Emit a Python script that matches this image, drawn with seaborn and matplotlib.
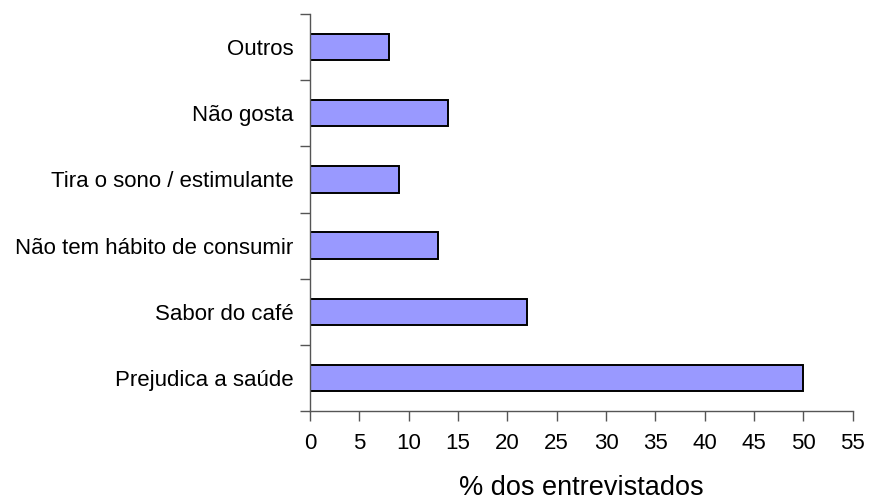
"""Motivos para não consumir café — barras horizontais."""
import matplotlib
matplotlib.use("Agg")
import matplotlib.pyplot as plt
import numpy as np
import pandas as pd
import seaborn as sns

categorias = [
    "Outros",
    "Não gosta",
    "Tira o sono / estimulante",
    "Não tem hábito de consumir",
    "Sabor do café",
    "Prejudica a saúde",
]
percentuais = [8, 14, 9, 13, 22, 50]
x_ticks = list(range(0, 60, 5))

sns.set_style("ticks")
plt.rcParams["font.family"] = ["Liberation Sans", "DejaVu Sans"]
plt.rcParams["text.color"] = "black"
plt.rcParams["xtick.labelcolor"] = "black"
plt.rcParams["ytick.labelcolor"] = "black"
plt.rcParams["axes.labelcolor"] = "black"

df = pd.DataFrame({"motivo": categorias, "pct": percentuais})

fig = plt.figure(figsize=(8.69, 5), dpi=100)
ax = fig.add_axes([0.3567, 0.178, 0.6245, 0.794])

sns.barplot(
    data=df, x="pct", y="motivo", orient="h", width=0.4,
    color="#9999FF", saturation=1, edgecolor="black", linewidth=1.4, ax=ax,
)

axis_color = "#555555"
ax.set_xlim(0, 55)
ax.set_ylim(len(categorias) - 0.5, -0.5)
ax.set_xticks(x_ticks)
ax.set_xticklabels([str(t) for t in x_ticks], fontsize=16)
ax.tick_params(axis="x", length=7, width=1, color=axis_color, pad=9,
               labelcolor="black")

# labels at category centres, tick marks at category boundaries
ax.tick_params(axis="y", which="major", length=0, pad=12, labelsize=16,
               labelcolor="black")
ax.set_yticks(np.arange(len(categorias) + 1) - 0.5, minor=True)
ax.tick_params(axis="y", which="minor", length=7, width=1, color=axis_color)

for side in ("top", "right"):
    ax.spines[side].set_visible(False)
for side in ("left", "bottom"):
    ax.spines[side].set_color(axis_color)
    ax.spines[side].set_linewidth(1)

ax.set_ylabel("")
ax.set_xlabel("% dos entrevistados", fontsize=19.5, labelpad=15, color="black")

fig.savefig("out.png", dpi=100)
plt.close(fig)
